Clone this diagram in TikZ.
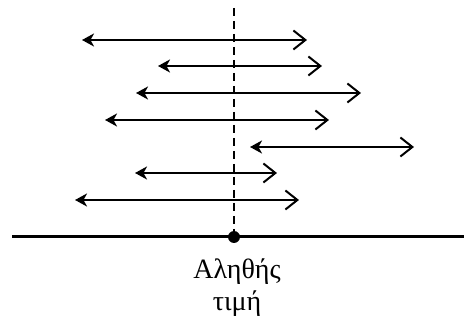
\documentclass[tikz,border=0pt]{standalone}
\usepackage{fontspec}
\setmainfont{Liberation Serif}
\usetikzlibrary{arrows.meta,positioning}
\begin{document}
\begin{tikzpicture}[
        x=1pt, y=-1pt,
        interval/.style={draw, line width=2pt, {Stealth[length=12pt,width=13pt,inset=3.5pt]}-{Straight Barb[length=12pt,width=19pt,line width=2pt]}},
        axis/.style={draw, line width=3pt},
        truth/.style={draw, line width=2pt, dash pattern=on 8pt off 5pt},
        dot/.style={circle, fill, inner sep=0pt, minimum size=12pt},
        label/.style={font=\fontsize{28}{32}\selectfont, align=center},
    ]
    \useasboundingbox (0,0) rectangle (464,323);
    \coordinate (axl) at (12,237);
    \coordinate (axr) at (464,237);
    \coordinate (top) at (234,8);
    \node[dot](mu) at (234,237){};
    \node[label, below=12pt of mu, xshift=3pt](lbl){Αληθής\\τιμή};
    \draw[axis] (axl) -- (axr);
    \draw[truth] (top) -- (mu);
    % intervals
    \coordinate (l1) at (82,40);  \coordinate (r1) at (307,40);
    \coordinate (l2) at (158,66); \coordinate (r2) at (322,66);
    \coordinate (l3) at (136,93); \coordinate (r3) at (361,93);
    \coordinate (l4) at (105,120); \coordinate (r4) at (329,120);
    \coordinate (l5) at (250,147); \coordinate (r5) at (414,147);
    \coordinate (l6) at (135,173); \coordinate (r6) at (277,173);
    \coordinate (l7) at (75,200); \coordinate (r7) at (299,200);
    \draw[interval] (l1) -- (r1);
    \draw[interval] (l2) -- (r2);
    \draw[interval] (l3) -- (r3);
    \draw[interval] (l4) -- (r4);
    \draw[interval] (l5) -- (r5);
    \draw[interval] (l6) -- (r6);
    \draw[interval] (l7) -- (r7);
\end{tikzpicture}
\end{document}
